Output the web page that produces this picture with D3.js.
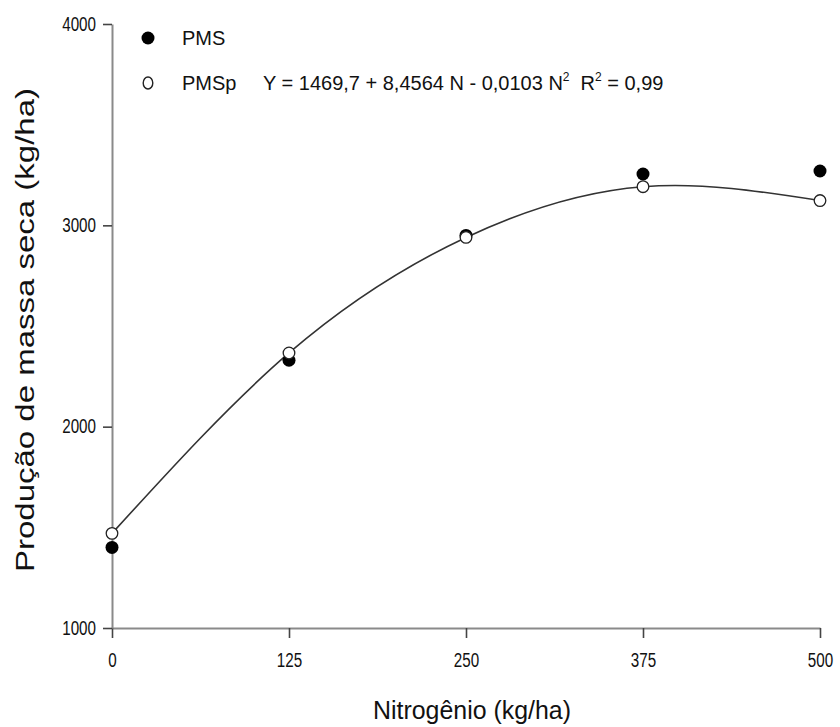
<!DOCTYPE html>
<html>
<head>
<meta charset="utf-8">
<script src="https://cdn.jsdelivr.net/npm/d3@7"></script>
<style>
  body { margin: 0; background: #fff; }
  svg text { font-family: "Liberation Sans", Arial, sans-serif; fill: #111; }
</style>
</head>
<body>
<div id="chart"></div>
<script>
// Dados
const doses = [0, 125, 250, 375, 500];            // Nitrogênio (kg/ha)
const pms   = [1400, 2330, 2950, 3255, 3270];     // PMS observado
const pmsp  = [1470, 2366, 2940, 3192, 3123];     // PMSp (estimado)
const yTicks = [1000, 2000, 3000, 4000];

const W = 840, H = 727;
const margin = { top: 24, right: 20, bottom: 99, left: 112 };
const width = W - margin.left - margin.right;
const height = H - margin.top - margin.bottom;

const svg = d3.select("#chart").append("svg")
  .attr("width", W)
  .attr("height", H);

const g = svg.append("g")
  .attr("transform", `translate(${margin.left},${margin.top})`);

const x = d3.scaleLinear().domain([0, 500]).range([0, width]);
const y = d3.scaleLinear().domain([1000, 4000]).range([height, 0]);

// Eixos
const sx = 0.78; // rótulos dos eixos são estreitos no original
const xAxis = g.append("g")
  .attr("transform", `translate(0,${height})`)
  .call(d3.axisBottom(x).tickValues(doses).tickSize(10).tickSizeOuter(0).tickPadding(15));
const yAxis = g.append("g")
  .call(d3.axisLeft(y).tickValues(yTicks).tickFormat(d3.format("d"))
    .tickSize(9).tickSizeOuter(0).tickPadding(7));

[xAxis, yAxis].forEach(a => {
  a.attr("font-size", null).attr("font-family", null);
  a.select(".domain").attr("stroke", "#8a8a8a").attr("stroke-width", 2);
  a.selectAll(".tick line").attr("stroke", "#444").attr("stroke-width", 1.6);
  a.selectAll("text")
    .style("font-size", "19.5px")
    .attr("fill", "#111")
    .attr("transform", `scale(${sx},1)`);
});
yAxis.selectAll("text").attr("x", -16 / sx);

// Curva ajustada
const line = d3.line()
  .x((d, i) => x(doses[i]))
  .y(d => y(d))
  .curve(d3.curveNatural);

g.append("path")
  .datum(pmsp)
  .attr("fill", "none")
  .attr("stroke", "#333")
  .attr("stroke-width", 1.6)
  .attr("d", line);

// Pontos observados
g.selectAll(".pms")
  .data(pms)
  .enter().append("circle")
  .attr("class", "pms")
  .attr("cx", (d, i) => x(doses[i]))
  .attr("cy", d => y(d))
  .attr("r", 6.5)
  .attr("fill", "#000");

// Pontos estimados
g.selectAll(".pmsp")
  .data(pmsp)
  .enter().append("circle")
  .attr("class", "pmsp")
  .attr("cx", (d, i) => x(doses[i]))
  .attr("cy", d => y(d))
  .attr("r", 5.8)
  .attr("fill", "#fff")
  .attr("stroke", "#222")
  .attr("stroke-width", 1.3);

// Títulos dos eixos
svg.append("text")
  .attr("x", margin.left + width / 2 + 6)
  .attr("y", 719)
  .attr("text-anchor", "middle")
  .attr("textLength", 198)
  .attr("lengthAdjust", "spacingAndGlyphs")
  .style("font-size", "25px")
  .text("Nitrogênio (kg/ha)");

svg.append("text")
  .attr("transform", `translate(34,${margin.top + height / 2 + 4}) rotate(-90)`)
  .attr("text-anchor", "middle")
  .attr("textLength", 484)
  .attr("lengthAdjust", "spacingAndGlyphs")
  .style("font-size", "25px")
  .text("Produção de massa seca (kg/ha)");

// Legenda
const leg = svg.append("g");
leg.append("circle").attr("cx", 148).attr("cy", 38).attr("r", 6.5).attr("fill", "#000");
leg.append("text").attr("x", 182).attr("y", 38).attr("dy", "0.35em")
  .style("font-size", "20px").text("PMS");

leg.append("ellipse").attr("cx", 148).attr("cy", 83).attr("rx", 4.8).attr("ry", 6)
  .attr("fill", "#fff").attr("stroke", "#222").attr("stroke-width", 1.4);
leg.append("text").attr("x", 182).attr("y", 83).attr("dy", "0.35em")
  .style("font-size", "20px").text("PMSp");

const eq = leg.append("text").attr("x", 263).attr("y", 83).attr("dy", "0.35em")
  .style("font-size", "20px");
eq.append("tspan").text("Y = 1469,7 + 8,4564 N - 0,0103 N");
eq.append("tspan").attr("dy", -9).style("font-size", "12px").text("2");
eq.append("tspan").attr("dy", 9).attr("dx", 11).text("R");
eq.append("tspan").attr("dy", -9).style("font-size", "12px").text("2");
eq.append("tspan").attr("dy", 9).text(" = 0,99");
</script>
</body>
</html>
